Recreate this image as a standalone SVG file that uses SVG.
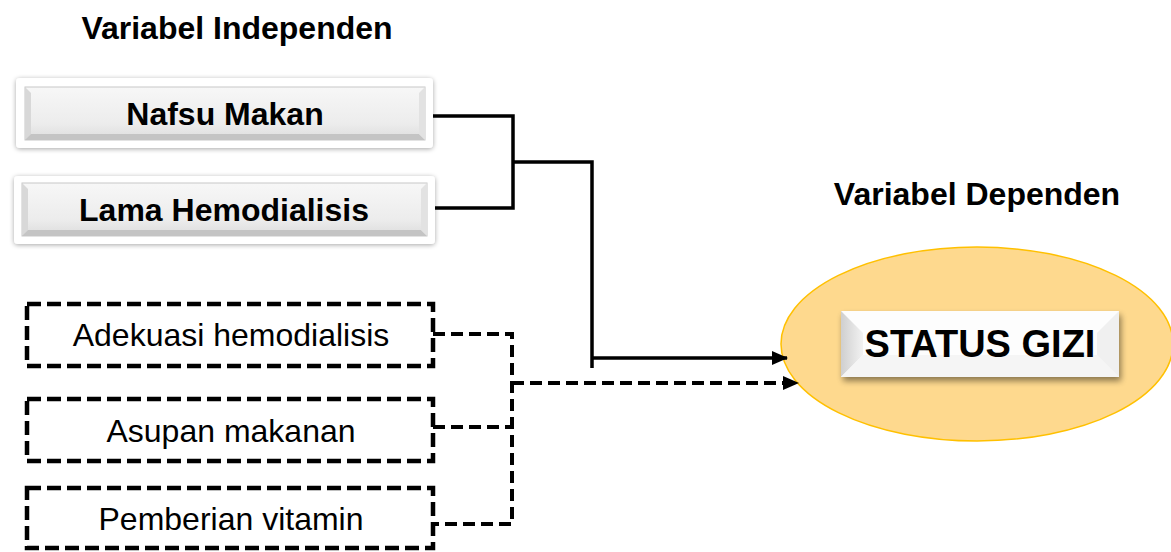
<svg xmlns="http://www.w3.org/2000/svg" width="1171" height="552" viewBox="0 0 1171 552">
<defs>
<style>
.hdr{font-family:"Liberation Sans",Arial,sans-serif;font-weight:bold;font-size:32px;fill:#000}
.bold{font-family:"Liberation Sans",Arial,sans-serif;font-weight:bold;font-size:32px;fill:#000;text-anchor:middle}
.reg{font-family:"Liberation Sans",Arial,sans-serif;font-size:32px;fill:#000;text-anchor:middle}
.frame{fill:#fff;filter:url(#soft)}
.bevel{fill:url(#bev);stroke:#c8c8c8;stroke-width:1}
.dash{fill:none;stroke:#000;stroke-width:4.5;stroke-dasharray:14 6}
.solid{fill:none;stroke:#000;stroke-width:3.5}
.dline{fill:none;stroke:#000;stroke-width:4;stroke-dasharray:12 6}
</style>
<filter id="soft" x="-10%" y="-30%" width="120%" height="160%">
<feGaussianBlur in="SourceAlpha" stdDeviation="2.5"/>
<feOffset dx="0" dy="1"/>
<feComponentTransfer><feFuncA type="linear" slope="0.35"/></feComponentTransfer>
<feMerge><feMergeNode/><feMergeNode in="SourceGraphic"/></feMerge>
</filter>
<filter id="shadow2" x="-10%" y="-30%" width="120%" height="170%">
<feGaussianBlur in="SourceAlpha" stdDeviation="3"/>
<feOffset dx="2" dy="4"/>
<feComponentTransfer><feFuncA type="linear" slope="0.45"/></feComponentTransfer>
<feMerge><feMergeNode/><feMergeNode in="SourceGraphic"/></feMerge>
</filter>
<linearGradient id="bev" x1="0" y1="0" x2="0" y2="1">
<stop offset="0" stop-color="#f7f7f7"/>
<stop offset="0.7" stop-color="#ececec"/>
<stop offset="1" stop-color="#dcdcdc"/>
</linearGradient>
<linearGradient id="lefttri" x1="0" y1="0" x2="1" y2="0">
<stop offset="0" stop-color="#cfcfcf"/>
<stop offset="1" stop-color="#f2f2f2"/>
</linearGradient>
<marker id="arr" viewBox="0 0 16 14" refX="15" refY="7" markerWidth="16" markerHeight="14" markerUnits="userSpaceOnUse" orient="auto">
<path d="M0,0 L16,7 L0,14 Z" fill="#000"/>
</marker>
</defs>
<rect width="1171" height="552" fill="#fff"/>

<text class="hdr" x="237" y="39" text-anchor="middle">Variabel Independen</text>
<text class="hdr" x="977" y="205" text-anchor="middle">Variabel Dependen</text>

<g id="dependent">
<ellipse cx="977" cy="344" rx="196" ry="97" fill="#fed98e" stroke="#ffc000" stroke-width="1.5"/>
</g>

<g id="nafsu">
<rect class="frame" x="16" y="78" width="417" height="70" rx="4"/>
<rect class="bevel" x="25" y="87" width="400" height="53"/>
<path d="M25,87 L31,93 L31,134 L25,140 Z" fill="#d8d8d8"/>
<path d="M25,140 L31,134 L419,134 L425,140 Z" fill="#c4c4c4"/>
<path d="M425,87 L419,93 L419,134 L425,140 Z" fill="#e2e2e2"/>
<text class="bold" x="225" y="125">Nafsu Makan</text>
</g>

<g id="lama">
<rect class="frame" x="14" y="176" width="421" height="68" rx="4"/>
<rect class="bevel" x="22" y="183" width="405" height="53"/>
<path d="M22,183 L28,189 L28,230 L22,236 Z" fill="#d8d8d8"/>
<path d="M22,236 L28,230 L421,230 L427,236 Z" fill="#c4c4c4"/>
<path d="M427,183 L421,189 L421,230 L427,236 Z" fill="#e2e2e2"/>
<text class="bold" x="224" y="221">Lama Hemodialisis</text>
</g>

<g id="adekuasi">
<rect class="dash" x="27" y="304" width="406" height="62"/>
<text class="reg" x="231" y="346">Adekuasi hemodialisis</text>
</g>

<g id="asupan">
<rect class="dash" x="27" y="399" width="406" height="62"/>
<text class="reg" x="231" y="442">Asupan makanan</text>
</g>

<g id="pemberian">
<rect class="dash" x="27" y="488" width="406" height="60"/>
<text class="reg" x="231" y="530">Pemberian vitamin</text>
</g>

<g id="status">
<g filter="url(#shadow2)">
<rect x="841" y="311" width="278" height="66" fill="#fdfdfd"/>
</g>
<path d="M841,311 L863,333 L863,355 L841,377 Z" fill="url(#lefttri)"/>
<path d="M841,377 L863,355 L1097,355 L1119,377 Z" fill="#f5f5f5"/>
<path d="M1119,311 L1097,333 L1097,355 L1119,377 Z" fill="#f0f0f0"/>
<text x="980" y="357" font-family="Liberation Sans, Arial, sans-serif" font-weight="bold" font-size="38" text-anchor="middle" fill="#000">STATUS GIZI</text>
</g>

<g id="connectors">
<polyline class="solid" points="433,116 513,116 513,208 435,208"/>
<polyline class="solid" points="513,162 592,162 592,368"/>
<line class="solid" x1="592" y1="358" x2="787" y2="358" marker-end="url(#arr)"/>
<polyline class="dline" points="433,334 512,334 512,524 433,524"/>
<line class="dline" x1="433" y1="427" x2="512" y2="427"/>
<line class="dline" x1="512" y1="383" x2="798" y2="383" marker-end="url(#arr)"/>
</g>
</svg>
